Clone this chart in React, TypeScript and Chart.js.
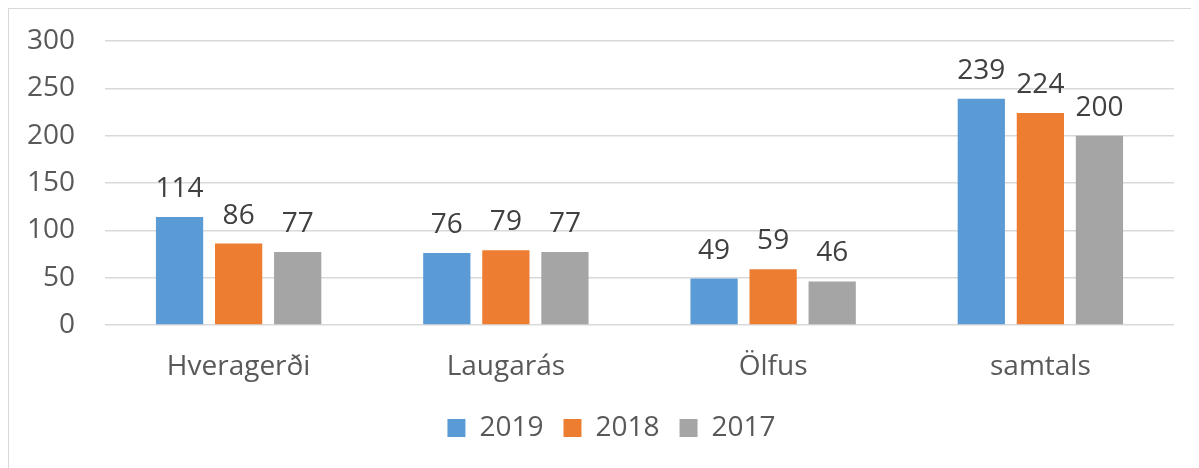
import React, { useEffect, useRef } from "react";
import { Chart, registerables } from "chart.js";

Chart.register(...registerables);

const categories = ["Hveragerði", "Laugarás", "Ölfus", "samtals"];
const seriesNames = ["2019", "2018", "2017"];
const values2019 = [114, 76, 49, 239];
const values2018 = [86, 79, 59, 224];
const values2017 = [77, 77, 46, 200];
const colors = ["#5B9BD5", "#ED7D31", "#A5A5A5"];
const yTicks = [0, 50, 100, 150, 200, 250, 300];

const FONT = "'Open Sans', sans-serif";
const FS = 28;

const dataLabels = {
  id: "dataLabels",
  afterLayout(chart: any) {
    if (chart.legend) {
      chart.legend.left += 20;
      chart.legend.right += 20;
    }
  },
  afterDatasetsDraw(chart: any) {
    const ctx = chart.ctx;
    ctx.save();
    ctx.font = `${FS}px ${FONT}`;
    ctx.fillStyle = "#404040";
    ctx.textAlign = "center";
    ctx.textBaseline = "alphabetic";
    chart.data.datasets.forEach((ds: any, i: number) => {
      const meta = chart.getDatasetMeta(i);
      meta.data.forEach((bar: any, j: number) => {
        ctx.fillText(String(ds.data[j]), bar.x, bar.y - 20);
      });
    });
    ctx.restore();
  },
};

export default function App() {
  const ref = useRef<HTMLCanvasElement>(null);
  useEffect(() => {
    const series = [values2019, values2018, values2017];
    const chart = new Chart(ref.current!, {
      type: "bar",
      data: {
        labels: categories,
        datasets: series.map((d, i) => ({
          label: seriesNames[i],
          data: d,
          backgroundColor: colors[i],
          borderWidth: 0,
          categoryPercentage: 0.663,
          barPercentage: 0.8,
        })),
      },
      options: {
        responsive: false,
        animation: false,
        layout: { padding: { top: 32, right: 25, left: 0, bottom: 16 } },
        plugins: {
          tooltip: { enabled: false },
          legend: {
            position: "bottom",
            labels: {
              boxWidth: 18,
              boxHeight: 18,
              padding: 20,
              color: "#595959",
              font: { family: FONT, size: FS },
            },
          },
        },
        scales: {
          x: {
            grid: { display: false, drawTicks: false },
            border: { display: false },
            ticks: { color: "#595959", font: { family: FONT, size: FS }, padding: 25 },
            afterFit(scale: any) {
              scale.height = 69;
            },
          },
          y: {
            min: 0,
            max: 300,
            afterBuildTicks(scale: any) {
              scale.ticks = yTicks.map((v) => ({ value: v }));
            },
            grid: { color: "#D9D9D9", lineWidth: 1.5, drawTicks: false },
            border: { display: false },
            ticks: { color: "#595959", font: { family: FONT, size: FS }, padding: 30 },
            afterFit(scale: any) {
              scale.width = 96;
              scale.paddingTop = 0;
              scale.paddingBottom = 0;
            },
          },
        },
      },
      plugins: [dataLabels],
    });
    return () => chart.destroy();
  }, []);
  return (
    <div
      style={{
        borderLeft: "1px solid #D9D9D9",
        borderTop: "1px solid #D9D9D9",
        width: 1190,
        height: 459,
        background: "#fff",
      }}
    >
      <canvas ref={ref} width={1190} height={459} style={{ display: "block" }} />
    </div>
  );
}
